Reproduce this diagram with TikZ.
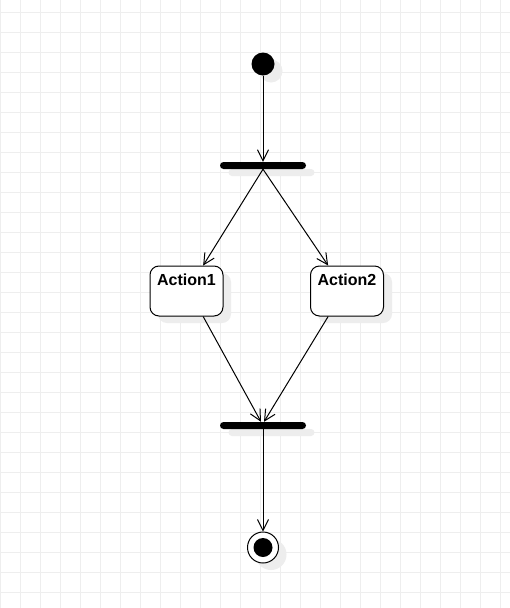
\documentclass[tikz,border=0pt]{standalone}
\usepackage{fontspec}
\setmainfont{Liberation Sans}
\usetikzlibrary{arrows.meta,calc}
\definecolor{gridc}{HTML}{EEEEEE}
\definecolor{shadowc}{HTML}{EDEDED}
\tikzset{
  gridline/.style={draw=gridc,line width=1pt},
  initnode/.style={circle,fill=black,minimum size=23pt,inner sep=0pt},
  barnode/.style={rectangle,fill=black,minimum width=86pt,minimum height=7pt,rounded corners=3.5pt,inner sep=0pt},
  action/.style={rectangle,draw=black,fill=white,line width=1pt,rounded corners=9pt,minimum width=73pt,minimum height=50pt,inner sep=0pt},
  lbl/.style={font=\fontsize{16}{19}\selectfont\bfseries,inner sep=0pt,anchor=base},
  finalnode/.style={circle,draw=black,fill=white,line width=1pt,minimum size=31pt,inner sep=0pt,
    path picture={\fill[black] (path picture bounding box.center) circle (9.5pt);}},
  arr/.style={draw=black,line width=1pt,-{Straight Barb[length=11pt,width=11pt,line width=1pt]}},
}
\begin{document}
\begin{tikzpicture}[x=1pt,y=-1pt]
\useasboundingbox (0,0) rectangle (510,608);
\fill[white] (0,0) rectangle (510,608);
% grid
\foreach \x in {0,20,...,500} \draw[gridline] (\x+0.5,0) -- (\x+0.5,608);
\foreach \y in {12,32,...,592} \draw[gridline] (0,\y+0.5) -- (510,\y+0.5);
% shadows
\fill[shadowc] (271,71) circle (11.5);
\fill[shadowc,rounded corners=3.5pt] (228.5,169) rectangle (314.5,176);
\fill[shadowc,rounded corners=9pt] (158,273) rectangle (231,323);
\fill[shadowc,rounded corners=9pt] (318,273) rectangle (392,323);
\fill[shadowc,rounded corners=3.5pt] (228.5,429) rectangle (314.5,436);
\fill[shadowc] (271,554.5) circle (15.5);
% nodes
\node[initnode] (init) at (263,64) {};
\node[barnode] (fork) at (263,165.5) {};
\node[action] (a1) at (186.5,291) {};
\node[action] (a2) at (347,291) {};
\node[lbl] (t1) at ($(a1.north)+(0,20)$) {Action1};
\node[lbl] (t2) at ($(a2.north)+(0,20)$) {Action2};
\node[barnode] (join) at (263,425.5) {};
\node[finalnode] (fin) at (263,547.5) {};
% connectors
\draw[arr] (init.south) -- (fork.north);
\draw[arr] (fork.south) -- ($(a1.north west)!0.725!(a1.north east)$);
\draw[arr] (fork.south) -- ($(a2.north west)!0.245!(a2.north east)$);
\draw[arr] ($(a1.south west)!0.725!(a1.south east)$) -- ([xshift=-2pt]join.north);
\draw[arr] ($(a2.south west)!0.245!(a2.south east)$) -- ([xshift=1pt]join.north);
\draw[arr] (join.south) -- (fin.north);
\end{tikzpicture}
\end{document}
